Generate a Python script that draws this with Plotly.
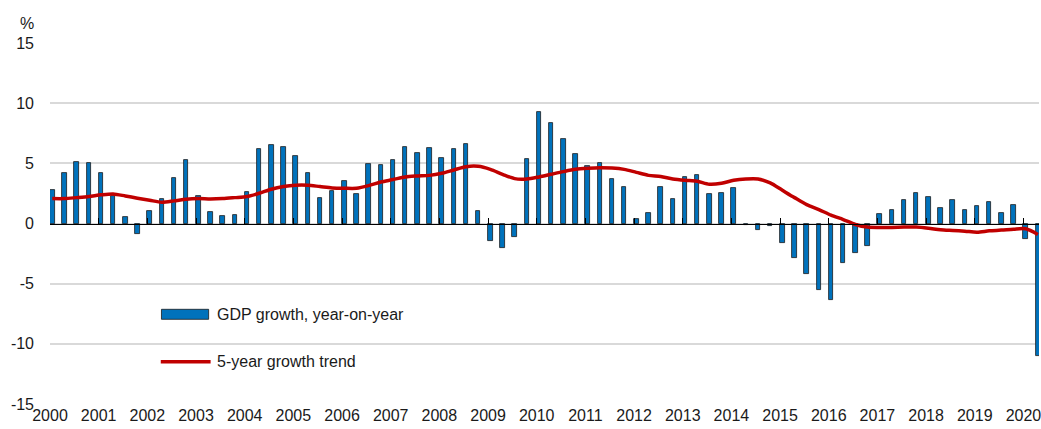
import plotly.graph_objects as go

# Quarterly data, 2000Q1 - 2020Q2
start_year = 2000
quarters = 82
gdp_growth = [2.82, 4.17, 5.14, 5.06, 4.23, 2.27, 0.55, -0.91, 1.05, 2.02,
              3.76, 5.25, 2.29, 0.99, 0.64, 0.69, 2.62, 6.16, 6.55, 6.33,
              5.64, 4.23, 2.13, 2.68, 3.54, 2.49, 4.94, 4.89, 5.30, 6.35,
              5.88, 6.27, 5.41, 6.22, 6.57, 1.02, -1.49, -2.02, -1.13, 5.36,
              9.28, 8.37, 7.02, 5.75, 4.78, 5.06, 3.67, 3.07, 0.36, 0.91,
              3.07, 2.07, 3.87, 4.00, 2.46, 2.57, 2.98, -0.14, -0.55, -0.22,
              -1.63, -2.90, -4.23, -5.52, -6.38, -3.29, -2.49, -1.91, 0.83, 1.13,
              1.99, 2.51, 2.24, 1.30, 1.99, 1.13, 1.49, 1.80, 0.86, 1.57,
              -1.30, -10.97]
trend = [2.07, 2.07, 2.15, 2.24, 2.38, 2.46, 2.29, 2.10, 1.93, 1.77,
         1.88, 2.02, 2.07, 2.04, 2.07, 2.15, 2.24, 2.51, 2.85, 3.07,
         3.18, 3.18, 3.07, 2.96, 2.93, 2.93, 3.15, 3.45, 3.65, 3.87,
         3.95, 4.00, 4.17, 4.45, 4.72, 4.75, 4.50, 4.09, 3.73, 3.70,
         3.87, 4.09, 4.31, 4.50, 4.59, 4.64, 4.61, 4.50, 4.25, 4.00,
         3.90, 3.70, 3.59, 3.51, 3.26, 3.34, 3.59, 3.70, 3.70, 3.37,
         2.76, 2.15, 1.57, 1.16, 0.69, 0.33, -0.08, -0.30, -0.33, -0.33,
         -0.30, -0.30, -0.39, -0.52, -0.58, -0.64, -0.72, -0.61, -0.55, -0.47,
         -0.44, -0.91]
year_ticks = list(range(2000, 2021))
year_labels = [str(y) for y in year_ticks]
y_ticks = [-15, -10, -5, 0, 5, 10, 15]
y_labels = [str(v) for v in y_ticks]

x = [start_year + i * 0.25 + 0.047 for i in range(quarters)]

FONT = "Liberation Sans, Arial, sans-serif"
FS = 16
TXT = "#1a1a1a"
BLUE = "#0072BC"
RED = "#C00000"

fig = go.Figure()
fig.add_trace(go.Bar(x=x, y=gdp_growth, width=0.092,
                     marker=dict(color=BLUE, line=dict(color="#1a1a1a", width=0.8)),
                     name="GDP growth, year-on-year", showlegend=False))
fig.add_trace(go.Scatter(x=x, y=trend, mode="lines",
                         line=dict(color=RED, width=3.5, shape="spline", smoothing=0.8),
                         name="5-year growth trend", showlegend=False))
# invisible trace to host the zero-line axis
fig.add_trace(go.Scatter(x=[None], y=[None], xaxis="x2", yaxis="y",
                         showlegend=False, hoverinfo="skip"))

xr = [2000, 2020.32]
fig.update_layout(
    width=1041, height=429,
    margin=dict(l=50, r=0, t=43, b=25),
    paper_bgcolor="white", plot_bgcolor="white",
    font=dict(family=FONT, size=FS, color=TXT),
    bargap=0,
    xaxis=dict(range=xr, tickvals=year_ticks, ticktext=year_labels,
               showgrid=False, zeroline=False, showline=False, ticks="",
               ticklabeloverflow="allow",
               tickfont=dict(size=FS, color=TXT)),
    xaxis2=dict(range=xr, overlaying="x", anchor="free", position=0.5,
                side="bottom", tickvals=year_ticks, showticklabels=False,
                ticks="inside", ticklen=6, tickcolor="#000000", tickwidth=1,
                showline=True, linecolor="#000000", linewidth=1,
                showgrid=False, zeroline=False),
    yaxis=dict(range=[-15, 15], tickvals=y_ticks, ticktext=y_labels,
               showgrid=True, gridcolor="#D9D9D9", gridwidth=1.5,
               zeroline=False, showline=False, ticks="", ticklabelstandoff=15,
               tickfont=dict(size=FS, color=TXT)),
    shapes=[
        dict(type="rect", xref="paper", yref="paper",
             x0=0.1127, x1=0.1604, y0=0.2346, y1=0.2623,
             fillcolor=BLUE, line=dict(color="#1a1a1a", width=0.8)),
        dict(type="line", xref="paper", yref="paper",
             x0=0.112, x1=0.1624, y0=0.1172, y1=0.1172,
             line=dict(color=RED, width=3.5)),
    ],
    annotations=[
        dict(text="%", xref="paper", yref="paper", x=-0.023, y=1.055,
             xanchor="center", yanchor="middle", showarrow=False,
             font=dict(size=FS, color=TXT)),
        dict(text="GDP growth, year-on-year", xref="paper", yref="paper",
             x=0.1665, y=0.2493, xanchor="left", yanchor="middle",
             showarrow=False, font=dict(size=FS, color=TXT)),
        dict(text="5-year growth trend", xref="paper", yref="paper",
             x=0.1665, y=0.1172, xanchor="left", yanchor="middle",
             showarrow=False, font=dict(size=FS, color=TXT)),
    ],
)

fig.write_html("out.html", config={"responsive": False, "displayModeBar": False},
               post_script="document.body.style.margin='0px';"
                           "document.documentElement.style.overflow='hidden';")
